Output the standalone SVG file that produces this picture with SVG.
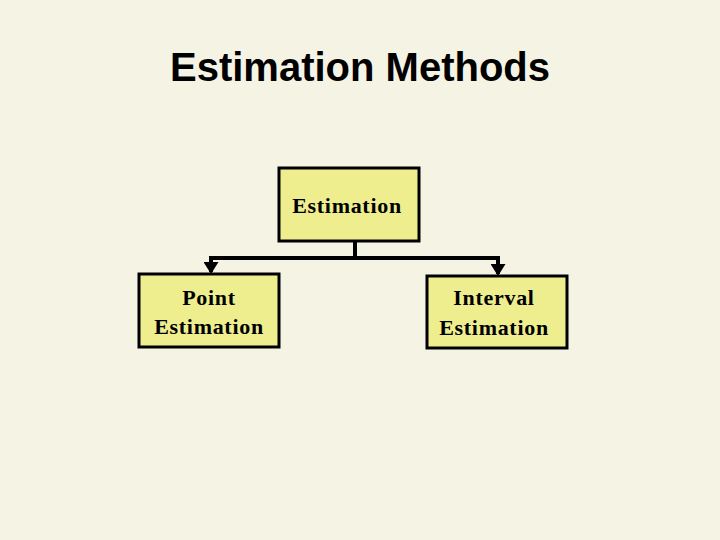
<svg xmlns="http://www.w3.org/2000/svg" width="720" height="540" viewBox="0 0 720 540">
<style>
.box{fill:#EEEE8F;stroke:#000;stroke-width:3}
.lbl{font-family:"Liberation Serif","Times New Roman",serif;font-size:22px;font-weight:bold;fill:#000;text-anchor:middle;letter-spacing:0.7px}
.title{font-family:"Liberation Sans",Arial,sans-serif;font-size:40px;font-weight:bold;fill:#000;text-anchor:middle}
.conn{fill:none;stroke:#000;stroke-width:4}
</style>
<defs>
<marker id="arr" markerWidth="12" markerHeight="15" refX="10" refY="7.5" orient="auto" markerUnits="userSpaceOnUse">
<path d="M0,0 L12,7.5 L0,15 z" fill="#000"/>
</marker>
</defs>
<rect width="720" height="540" fill="#F5F3E4"/>
<text class="title" x="360" y="81">Estimation Methods</text>
<g id="connectors">
<path class="conn" d="M355,241 V258"/>
<path class="conn" d="M209,258 H500"/>
<path class="conn" d="M211,258 V272" marker-end="url(#arr)"/>
<path class="conn" d="M498,258 V274" marker-end="url(#arr)"/>
</g>
<g id="estimation">
<rect class="box" x="279" y="168" width="140" height="73"/>
<text class="lbl" x="347" y="213">Estimation</text>
</g>
<g id="point-estimation">
<rect class="box" x="139" y="274" width="140" height="73"/>
<text class="lbl" x="209" y="305">Point</text>
<text class="lbl" x="209" y="334">Estimation</text>
</g>
<g id="interval-estimation">
<rect class="box" x="427" y="276" width="140" height="72"/>
<text class="lbl" x="494" y="305">Interval</text>
<text class="lbl" x="494" y="335">Estimation</text>
</g>
</svg>
